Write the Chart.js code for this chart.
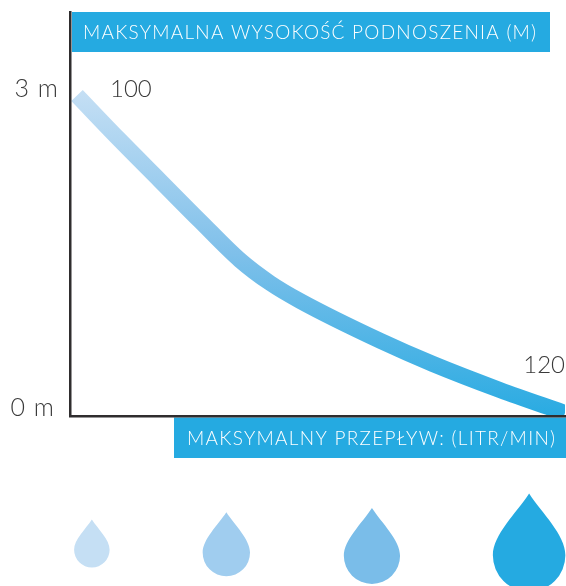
<!DOCTYPE html>
<html><head><meta charset="utf-8">
<style>html,body{margin:0;padding:0;background:#fff}#w{position:relative;width:566px;height:586px}</style>
<script src="https://cdn.jsdelivr.net/npm/chart.js@4"></script></head>
<body><div id="w"><canvas id="c" width="566" height="586"></canvas></div>
<script>
const flowValues=[1.7,12.1,21.8,31.5,41.2,48.5,55.8,75.2,88,104.2,120];
const headValues=[2.94,2.53,2.16,1.79,1.43,1.22,1.055,0.69,0.477,0.239,0.028];
const yTickValues=[0,3];
const yTickLabels={0:['0 m\u2009',''],3:'3 m'};
const yAxisTitle='MAKSYMALNA WYSOKOŚĆ PODNOSZENIA (M)';
const xAxisTitle='MAKSYMALNY PRZEPŁYW: (LITR/MIN)';
const endLabels=['100','120'];
const dropX=[5.3,37.9,73.2,111.3];
const dropBase=[-1.39,-1.47,-1.54,-1.61];
const dropHeights=[48,64,76,98];
const dropColors=['#c5dff4','#a0cdef','#7abde9','#25aae1'];
const FONT='Lato, sans-serif';
const bannerPlugin={id:'banners',
 beforeDraw(ch){ch.ctx.letterSpacing='1px';},
 afterDatasetsDraw(ch){
  const g=ch.ctx,xs=ch.scales.x,ys=ch.scales.y;g.save();
  const band=(x0,y0,x1,y1,t,tx,ls)=>{g.fillStyle='#25aae1';g.fillRect(x0,y0,x1-x0,y1-y0);
    g.letterSpacing=ls;g.fillStyle='#fff';g.font='300 19px '+FONT;g.textBaseline='middle';g.textAlign='left';g.fillText(t,tx,(y0+y1)/2+1);};
  band(72,12,550,52,yAxisTitle,83,'1.25px');
  band(174,417.5,566,458,xAxisTitle,187,'1.3px');
  g.letterSpacing='0px';g.fillStyle='#3a3a3a';g.font='300 24px '+FONT;g.textBaseline='middle';
  g.textAlign='left';g.fillText(endLabels[0],110,89);
  g.textAlign='right';g.fillText(endLabels[1],565,365);
  dropX.forEach((v,i)=>{
    const cx=xs.getPixelForValue(v),b=ys.getPixelForValue(dropBase[i]),h=dropHeights[i],r=h*0.37,t=b-h;
    g.fillStyle=dropColors[i];g.beginPath();g.moveTo(cx,t);
    g.bezierCurveTo(cx+r*0.35,t+h*0.2,cx+r,t+h*0.42,cx+r,b-r);
    g.arc(cx,b-r,r,0,Math.PI);
    g.bezierCurveTo(cx-r,t+h*0.42,cx-r*0.35,t+h*0.2,cx,t);g.fill();
  });
  g.restore();}};
new Chart(document.getElementById('c'),{
 type:'scatter',
 data:{datasets:[
  {data:flowValues.map((x,i)=>({x,y:headValues[i]})),showLine:true,cubicInterpolationMode:'monotone',borderWidth:16,pointRadius:0,
   borderCapStyle:'butt',
   borderColor(ctx){const a=ctx.chart.chartArea;if(!a)return '#7abde9';
     const l=ctx.chart.ctx.createLinearGradient(0,a.top+78,0,a.bottom);
     l.addColorStop(0,'#c5dff4');l.addColorStop(0.5,'#7fc0ea');l.addColorStop(1,'#29abe2');return l;}}
 ]},
 options:{responsive:false,animation:false,
  layout:{autoPadding:false,padding:{left:0,right:1,top:12,bottom:170}},
  plugins:{legend:{display:false},tooltip:{enabled:false}},
  scales:{
   x:{type:'linear',min:0,max:120,grid:{display:false,drawTicks:false},border:{color:'#2f2d2e',width:2.5,z:1},ticks:{display:false}},
   y:{type:'linear',min:0,max:3.706,afterFit(s){s.width=70;s.paddingTop=0;s.paddingBottom=0;},afterBuildTicks(s){s.ticks=yTickValues.map(value=>({value}))},
     grid:{display:false,drawTicks:false},border:{color:'#2f2d2e',width:2.5,z:1},
     ticks:{autoSkip:false,padding:11,color:'#3a3a3a',font:{family:FONT,size:25,weight:300,lineHeight:16/25},callback:v=>yTickLabels[v]}}
  }}
 ,plugins:[bannerPlugin]});
</script></body></html>
